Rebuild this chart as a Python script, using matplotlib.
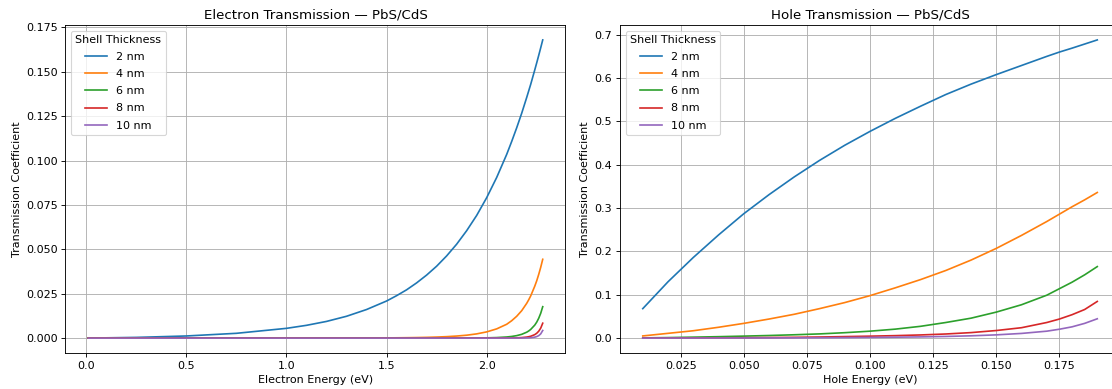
import matplotlib
matplotlib.use("Agg")
import matplotlib.pyplot as plt

# Shell thickness labels
shells = ['2 nm', '4 nm', '6 nm', '8 nm', '10 nm']

# Electron energies (eV) and transmission
e_energy = [0.01, 0.25, 0.5, 0.75, 1.0, 1.1, 1.2, 1.3, 1.4, 1.5, 1.55, 1.6, 1.65, 1.7, 1.75,
            1.8, 1.85, 1.9, 1.95, 2.0, 2.05, 2.1, 2.125, 2.15, 2.175, 2.2, 2.21, 2.22, 2.24,
            2.25, 2.26, 2.27, 2.28]
e_2nm = [0.00001, 0.0004, 0.0012, 0.0027, 0.0055, 0.0072, 0.0094, 0.0123, 0.0161, 0.0209,
         0.0239, 0.0272, 0.0311, 0.0355, 0.0405, 0.0463, 0.0529, 0.0605, 0.0691, 0.0791,
         0.0905, 0.1035, 0.1108, 0.1185, 0.1267, 0.1356, 0.1393, 0.143, 0.151, 0.1551,
         0.1593, 0.1636, 0.168]
e_4nm = [0.0, 0.0, 0.0, 0.000001, 0.000008, 0.000013, 0.00002, 0.000035, 0.00006, 0.00012,
         0.00017, 0.00023, 0.00031, 0.00042, 0.00059, 0.00082, 0.00116, 0.00164, 0.00238,
         0.0035, 0.0052, 0.0078, 0.0098, 0.0123, 0.01545, 0.0196, 0.0216, 0.0238, 0.0292,
         0.0323, 0.0359, 0.0399, 0.0444]
e_6nm = [0.0, 0.0, 0.0, 0.0, 0.0, 0.0, 0.0, 0.0, 0.0, 0.0,
         0.0, 0.0, 0.000001, 0.000002, 0.000005, 0.00001, 0.00002, 0.00004, 0.00008,
         0.00015, 0.0003, 0.00063, 0.00093, 0.00139, 0.00213, 0.00333, 0.00402, 0.0049,
         0.0073, 0.0090, 0.0112, 0.0140, 0.0177]
e_8nm = [0.0, 0.0, 0.0, 0.0, 0.0, 0.0, 0.0, 0.0, 0.0, 0.0,
         0.0, 0.0, 0.0, 0.0, 0.0, 0.0, 0.000002, 0.000005, 0.00001,
         0.00002, 0.00003, 0.00005, 0.00009, 0.00016, 0.0003, 0.00058, 0.00078, 0.00104,
         0.00195, 0.00273, 0.00388, 0.00563, 0.0084]
e_10nm = [0.0, 0.0, 0.0, 0.0, 0.0, 0.0, 0.0, 0.0, 0.0, 0.0,
          0.0, 0.0, 0.0, 0.0, 0.0, 0.0, 0.0, 0.0, 0.000001,
          0.000002, 0.000005, 0.00001, 0.000015, 0.00003, 0.00005, 0.0001, 0.00015, 0.00023,
          0.00053, 0.00085, 0.00139, 0.00239, 0.0043]

# Hole energies (eV) and transmission
h_energy = [0.01, 0.02, 0.03, 0.04, 0.05, 0.06, 0.07, 0.08, 0.09, 0.10,
            0.11, 0.12, 0.13, 0.14, 0.15, 0.16, 0.17, 0.175, 0.18, 0.185, 0.19]
h_2nm = [0.068, 0.130, 0.186, 0.238, 0.287, 0.331, 0.372, 0.410, 0.445, 0.477,
         0.507, 0.535, 0.562, 0.586, 0.608, 0.629, 0.650, 0.660, 0.669, 0.6785, 0.688]
h_4nm = [0.005, 0.011, 0.017, 0.025, 0.034, 0.044, 0.055, 0.068, 0.082, 0.098,
         0.116, 0.135, 0.156, 0.180, 0.207, 0.237, 0.269, 0.286, 0.303, 0.319, 0.336]
h_6nm = [0.0005, 0.0012, 0.0022, 0.0033, 0.0046, 0.0060, 0.0077, 0.0097, 0.0125, 0.0160,
         0.0207, 0.0272, 0.0360, 0.0460, 0.0600, 0.0770, 0.0990, 0.1140, 0.1290, 0.1460,
         0.1650]
h_8nm = [0.0001, 0.0002, 0.0004, 0.0006, 0.0009, 0.0013, 0.0018, 0.0025, 0.0035, 0.0045,
         0.0057, 0.0073, 0.0095, 0.0127, 0.0175, 0.0240, 0.0360, 0.0440, 0.0540, 0.0660,
         0.0846]
h_10nm = [0.0, 0.0001, 0.0001, 0.0002, 0.0003, 0.0004, 0.0006, 0.0009, 0.0012, 0.0016,
          0.0021, 0.0028, 0.0038, 0.0053, 0.0075, 0.0108, 0.0160, 0.0205, 0.0260, 0.0340,
          0.0446]

electron = [e_2nm, e_4nm, e_6nm, e_8nm, e_10nm]
hole = [h_2nm, h_4nm, h_6nm, h_8nm, h_10nm]

# rendered at 80 dpi so text and lines come out at the reference's smaller scale
fig = plt.figure(figsize=(13.9, 4.8625), dpi=80)
ax1 = fig.add_axes([0.0589, 0.0925, 0.4496, 0.8432])
ax2 = fig.add_axes([0.5576, 0.0925, 0.4496, 0.8432])

for label, vals in zip(shells, electron):
    ax1.plot(e_energy, vals, label=label)
ax1.set_title('Electron Transmission — PbS/CdS')
ax1.set_xlabel('Electron Energy (eV)')
ax1.set_ylabel('Transmission Coefficient')
ax1.legend(title='Shell Thickness', loc='upper left', labelspacing=0.64)
ax1.grid(True)

for label, vals in zip(shells, hole):
    ax2.plot(h_energy, vals, label=label)
ax2.set_title('Hole Transmission — PbS/CdS')
ax2.set_xlabel('Hole Energy (eV)')
ax2.set_ylabel('Transmission Coefficient')
ax2.legend(title='Shell Thickness', loc='upper left', labelspacing=0.64)
ax2.grid(True)

fig.savefig('out.png', dpi=80)
